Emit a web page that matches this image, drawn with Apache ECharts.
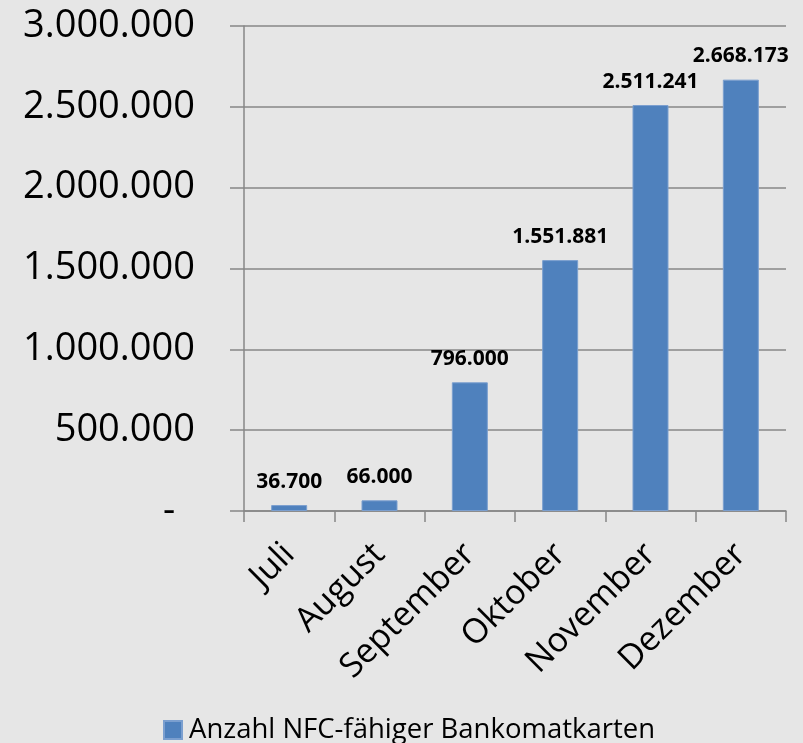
<!DOCTYPE html>
<html>
<head>
<meta charset="utf-8">
<script src="https://cdn.jsdelivr.net/npm/echarts@6/dist/echarts.min.js"></script>
<style>
  html, body { margin: 0; padding: 0; background: #e6e6e6; }
  #main { width: 803px; height: 743px; }
</style>
</head>
<body>
<div id="main"></div>
<script>
// Monate und Anzahl NFC-fähiger Bankomatkarten
var months = ['Juli', 'August', 'September', 'Oktober', 'November', 'Dezember'];
var cardCounts = [36700, 66000, 796000, 1551881, 2511241, 2668173];
var seriesName = 'Anzahl NFC-fähiger Bankomatkarten';

var FONT = '"Open Sans", "Noto Sans", sans-serif';
var GRID_COLOR = '#878787';

function deNumber(v) {
  // 1234567 -> 1.234.567, 0 -> "-"
  if (v === 0) return '-  ';
  return String(Math.round(v)).replace(/\B(?=(\d{3})+(?!\d))/g, '.');
}

var myChart = echarts.init(document.getElementById('main'));

var option = {
  backgroundColor: '#e6e6e6',
  animation: false,
  grid: {
    left: 244,
    right: 17,
    top: 26,
    bottom: 232
  },
  legend: {
    data: [seriesName],
    left: 158,
    top: 711,
    itemWidth: 18,
    itemHeight: 18,
    icon: 'rect',
    textStyle: { fontFamily: FONT, fontSize: 27.5, color: '#000', padding: [0, 0, 0, 2] }
  },
  xAxis: {
    type: 'category',
    data: months,
    axisLine: { lineStyle: { color: GRID_COLOR, width: 1.5 } },
    axisTick: { show: true, length: 11, lineStyle: { color: GRID_COLOR, width: 1.5 } },
    axisLabel: {
      rotate: 45,
      interval: 0,
      margin: 38,
      fontFamily: FONT,
      fontSize: 34,
      color: '#000'
    }
  },
  yAxis: {
    type: 'value',
    min: 0,
    max: 3000000,
    interval: 500000,
    axisLine: { show: true, lineStyle: { color: GRID_COLOR, width: 1.5 } },
    axisTick: { show: true, length: 14, lineStyle: { color: GRID_COLOR, width: 1.5 } },
    splitLine: { show: true, lineStyle: { color: GRID_COLOR, width: 1.5 } },
    axisLabel: {
      margin: 49,
      fontFamily: FONT,
      fontSize: 38,
      color: '#000',
      formatter: deNumber
    }
  },
  series: [
    {
      name: seriesName,
      type: 'bar',
      data: cardCounts,
      barWidth: 36,
      itemStyle: { color: '#4f81bd', borderColor: '#7b9fcf', borderWidth: 1 },
      label: {
        show: true,
        position: 'top',
        distance: 13,
        fontFamily: FONT,
        fontSize: 21,
        fontWeight: 'bold',
        color: '#000',
        formatter: function (p) { return deNumber(p.value); }
      }
    }
  ]
};

myChart.setOption(option);
</script>
</body>
</html>
